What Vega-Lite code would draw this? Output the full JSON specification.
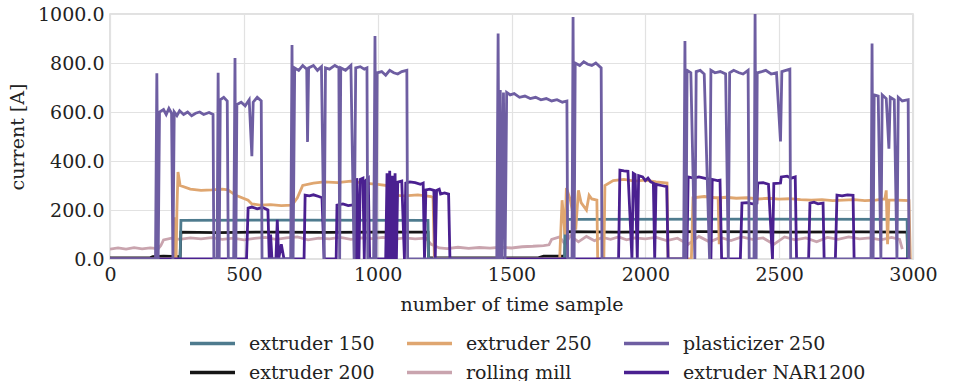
{
  "$schema": "https://vega.github.io/schema/vega-lite/v6.json",
  "width": 803,
  "height": 245,
  "padding": {"left": 8, "top": 5, "right": 5, "bottom": 0},
  "config": {
    "font": "DejaVu Serif",
    "view": {"stroke": "#d8d8d8", "strokeWidth": 1.5},
    "axis": {"grid": true, "gridColor": "#e2e2e2", "gridWidth": 1.2, "domain": false, "ticks": false, "labelFontSize": 19, "titleFontSize": 19, "titleFontWeight": "normal", "labelColor": "#222", "titleColor": "#222", "labelPadding": 6},
    "legend": {"labelFontSize": 19, "labelColor": "#222"}
  },
  "data": {"values": [
    {"m":"rolling mill","s":0,"v":40},{"m":"rolling mill","s":30,"v":45},{"m":"rolling mill","s":60,"v":40},{"m":"rolling mill","s":90,"v":46},{"m":"rolling mill","s":120,"v":41},{"m":"rolling mill","s":150,"v":45},{"m":"rolling mill","s":180,"v":42},{"m":"rolling mill","s":190,"v":55},{"m":"rolling mill","s":200,"v":78},{"m":"rolling mill","s":230,"v":85},{"m":"rolling mill","s":260,"v":80},{"m":"rolling mill","s":300,"v":86},{"m":"rolling mill","s":340,"v":82},{"m":"rolling mill","s":380,"v":87},{"m":"rolling mill","s":420,"v":80},{"m":"rolling mill","s":460,"v":85},{"m":"rolling mill","s":500,"v":78},{"m":"rolling mill","s":540,"v":84},{"m":"rolling mill","s":580,"v":88},{"m":"rolling mill","s":620,"v":80},{"m":"rolling mill","s":660,"v":86},{"m":"rolling mill","s":700,"v":90},{"m":"rolling mill","s":740,"v":78},{"m":"rolling mill","s":780,"v":85},{"m":"rolling mill","s":820,"v":82},{"m":"rolling mill","s":860,"v":88},{"m":"rolling mill","s":900,"v":80},{"m":"rolling mill","s":940,"v":86},{"m":"rolling mill","s":980,"v":83},{"m":"rolling mill","s":1020,"v":88},{"m":"rolling mill","s":1060,"v":80},{"m":"rolling mill","s":1100,"v":86},{"m":"rolling mill","s":1140,"v":82},{"m":"rolling mill","s":1180,"v":85},{"m":"rolling mill","s":1200,"v":60},{"m":"rolling mill","s":1230,"v":45},{"m":"rolling mill","s":1260,"v":42},{"m":"rolling mill","s":1300,"v":48},{"m":"rolling mill","s":1340,"v":43},{"m":"rolling mill","s":1380,"v":47},{"m":"rolling mill","s":1420,"v":44},{"m":"rolling mill","s":1460,"v":48},{"m":"rolling mill","s":1500,"v":45},{"m":"rolling mill","s":1540,"v":50},{"m":"rolling mill","s":1580,"v":52},{"m":"rolling mill","s":1620,"v":55},{"m":"rolling mill","s":1640,"v":58},{"m":"rolling mill","s":1650,"v":80},{"m":"rolling mill","s":1680,"v":90},{"m":"rolling mill","s":1700,"v":60},{"m":"rolling mill","s":1720,"v":95},{"m":"rolling mill","s":1750,"v":70},{"m":"rolling mill","s":1780,"v":92},{"m":"rolling mill","s":1810,"v":75},{"m":"rolling mill","s":1840,"v":88},{"m":"rolling mill","s":1870,"v":80},{"m":"rolling mill","s":1900,"v":90},{"m":"rolling mill","s":1930,"v":78},{"m":"rolling mill","s":1960,"v":86},{"m":"rolling mill","s":2000,"v":82},{"m":"rolling mill","s":2040,"v":88},{"m":"rolling mill","s":2080,"v":75},{"m":"rolling mill","s":2120,"v":85},{"m":"rolling mill","s":2160,"v":60},{"m":"rolling mill","s":2200,"v":92},{"m":"rolling mill","s":2240,"v":70},{"m":"rolling mill","s":2280,"v":88},{"m":"rolling mill","s":2320,"v":75},{"m":"rolling mill","s":2360,"v":90},{"m":"rolling mill","s":2400,"v":80},{"m":"rolling mill","s":2440,"v":86},{"m":"rolling mill","s":2480,"v":60},{"m":"rolling mill","s":2520,"v":90},{"m":"rolling mill","s":2560,"v":78},{"m":"rolling mill","s":2600,"v":86},{"m":"rolling mill","s":2640,"v":70},{"m":"rolling mill","s":2680,"v":88},{"m":"rolling mill","s":2720,"v":80},{"m":"rolling mill","s":2760,"v":90},{"m":"rolling mill","s":2800,"v":82},{"m":"rolling mill","s":2840,"v":86},{"m":"rolling mill","s":2880,"v":78},{"m":"rolling mill","s":2920,"v":88},{"m":"rolling mill","s":2950,"v":80},{"m":"rolling mill","s":2960,"v":40},

    {"m":"extruder 200","s":0,"v":5},{"m":"extruder 200","s":150,"v":5},{"m":"extruder 200","s":160,"v":10},{"m":"extruder 200","s":200,"v":12},{"m":"extruder 200","s":262,"v":10},{"m":"extruder 200","s":265,"v":110},{"m":"extruder 200","s":400,"v":108},{"m":"extruder 200","s":600,"v":110},{"m":"extruder 200","s":800,"v":109},{"m":"extruder 200","s":1000,"v":110},{"m":"extruder 200","s":1188,"v":110},{"m":"extruder 200","s":1190,"v":5},{"m":"extruder 200","s":1600,"v":5},{"m":"extruder 200","s":1620,"v":12},{"m":"extruder 200","s":1700,"v":12},{"m":"extruder 200","s":1702,"v":112},{"m":"extruder 200","s":1900,"v":110},{"m":"extruder 200","s":2200,"v":112},{"m":"extruder 200","s":2500,"v":110},{"m":"extruder 200","s":2800,"v":111},{"m":"extruder 200","s":2978,"v":110},{"m":"extruder 200","s":2980,"v":5},

    {"m":"extruder 150","s":0,"v":0},{"m":"extruder 150","s":262,"v":0},{"m":"extruder 150","s":265,"v":158},{"m":"extruder 150","s":700,"v":159},{"m":"extruder 150","s":1188,"v":158},{"m":"extruder 150","s":1190,"v":0},{"m":"extruder 150","s":1698,"v":0},{"m":"extruder 150","s":1700,"v":162},{"m":"extruder 150","s":2400,"v":163},{"m":"extruder 150","s":2978,"v":162},{"m":"extruder 150","s":2980,"v":0},

    {"m":"extruder 250","s":0,"v":0},{"m":"extruder 250","s":240,"v":0},{"m":"extruder 250","s":243,"v":170},{"m":"extruder 250","s":247,"v":0},{"m":"extruder 250","s":250,"v":200},{"m":"extruder 250","s":254,"v":355},{"m":"extruder 250","s":262,"v":300},{"m":"extruder 250","s":300,"v":285},{"m":"extruder 250","s":340,"v":280},{"m":"extruder 250","s":380,"v":282},{"m":"extruder 250","s":420,"v":285},{"m":"extruder 250","s":440,"v":282},{"m":"extruder 250","s":470,"v":260},{"m":"extruder 250","s":516,"v":240},{"m":"extruder 250","s":530,"v":225},{"m":"extruder 250","s":560,"v":220},{"m":"extruder 250","s":600,"v":222},{"m":"extruder 250","s":640,"v":218},{"m":"extruder 250","s":680,"v":220},{"m":"extruder 250","s":700,"v":250},{"m":"extruder 250","s":720,"v":300},{"m":"extruder 250","s":760,"v":310},{"m":"extruder 250","s":800,"v":315},{"m":"extruder 250","s":850,"v":312},{"m":"extruder 250","s":900,"v":318},{"m":"extruder 250","s":950,"v":310},{"m":"extruder 250","s":1000,"v":305},{"m":"extruder 250","s":1035,"v":300},{"m":"extruder 250","s":1040,"v":262},{"m":"extruder 250","s":1100,"v":258},{"m":"extruder 250","s":1150,"v":262},{"m":"extruder 250","s":1200,"v":255},{"m":"extruder 250","s":1207,"v":250},{"m":"extruder 250","s":1212,"v":0},{"m":"extruder 250","s":1680,"v":0},{"m":"extruder 250","s":1689,"v":240},{"m":"extruder 250","s":1700,"v":100},{"m":"extruder 250","s":1705,"v":290},{"m":"extruder 250","s":1720,"v":240},{"m":"extruder 250","s":1740,"v":120},{"m":"extruder 250","s":1750,"v":280},{"m":"extruder 250","s":1760,"v":230},{"m":"extruder 250","s":1780,"v":200},{"m":"extruder 250","s":1790,"v":260},{"m":"extruder 250","s":1800,"v":245},{"m":"extruder 250","s":1819,"v":240},{"m":"extruder 250","s":1822,"v":0},{"m":"extruder 250","s":1845,"v":0},{"m":"extruder 250","s":1849,"v":300},{"m":"extruder 250","s":1880,"v":320},{"m":"extruder 250","s":1920,"v":325},{"m":"extruder 250","s":1960,"v":318},{"m":"extruder 250","s":2000,"v":322},{"m":"extruder 250","s":2040,"v":315},{"m":"extruder 250","s":2081,"v":310},{"m":"extruder 250","s":2085,"v":0},{"m":"extruder 250","s":2172,"v":0},{"m":"extruder 250","s":2178,"v":250},{"m":"extruder 250","s":2220,"v":255},{"m":"extruder 250","s":2260,"v":250},{"m":"extruder 250","s":2272,"v":250},{"m":"extruder 250","s":2276,"v":60},{"m":"extruder 250","s":2282,"v":250},{"m":"extruder 250","s":2300,"v":252},{"m":"extruder 250","s":2340,"v":248},{"m":"extruder 250","s":2380,"v":250},{"m":"extruder 250","s":2420,"v":245},{"m":"extruder 250","s":2460,"v":248},{"m":"extruder 250","s":2500,"v":244},{"m":"extruder 250","s":2540,"v":246},{"m":"extruder 250","s":2580,"v":242},{"m":"extruder 250","s":2620,"v":240},{"m":"extruder 250","s":2660,"v":242},{"m":"extruder 250","s":2700,"v":238},{"m":"extruder 250","s":2740,"v":240},{"m":"extruder 250","s":2780,"v":242},{"m":"extruder 250","s":2820,"v":238},{"m":"extruder 250","s":2860,"v":240},{"m":"extruder 250","s":2895,"v":245},{"m":"extruder 250","s":2900,"v":280},{"m":"extruder 250","s":2905,"v":60},{"m":"extruder 250","s":2910,"v":240},{"m":"extruder 250","s":2940,"v":240},{"m":"extruder 250","s":2985,"v":238},{"m":"extruder 250","s":2990,"v":0},

    {"m":"extruder NAR1200","s":0,"v":0},{"m":"extruder NAR1200","s":510,"v":0},{"m":"extruder NAR1200","s":516,"v":208},{"m":"extruder NAR1200","s":530,"v":212},{"m":"extruder NAR1200","s":550,"v":205},{"m":"extruder NAR1200","s":570,"v":210},{"m":"extruder NAR1200","s":590,"v":200},{"m":"extruder NAR1200","s":595,"v":0},{"m":"extruder NAR1200","s":600,"v":100},{"m":"extruder NAR1200","s":605,"v":0},{"m":"extruder NAR1200","s":620,"v":0},{"m":"extruder NAR1200","s":625,"v":160},{"m":"extruder NAR1200","s":630,"v":0},{"m":"extruder NAR1200","s":640,"v":60},{"m":"extruder NAR1200","s":650,"v":0},{"m":"extruder NAR1200","s":725,"v":0},{"m":"extruder NAR1200","s":729,"v":261},{"m":"extruder NAR1200","s":745,"v":258},{"m":"extruder NAR1200","s":760,"v":262},{"m":"extruder NAR1200","s":780,"v":255},{"m":"extruder NAR1200","s":792,"v":250},{"m":"extruder NAR1200","s":800,"v":0},{"m":"extruder NAR1200","s":845,"v":0},{"m":"extruder NAR1200","s":848,"v":220},{"m":"extruder NAR1200","s":870,"v":225},{"m":"extruder NAR1200","s":890,"v":218},{"m":"extruder NAR1200","s":915,"v":222},{"m":"extruder NAR1200","s":920,"v":0},{"m":"extruder NAR1200","s":922,"v":330},{"m":"extruder NAR1200","s":930,"v":0},{"m":"extruder NAR1200","s":935,"v":325},{"m":"extruder NAR1200","s":945,"v":330},{"m":"extruder NAR1200","s":950,"v":0},{"m":"extruder NAR1200","s":955,"v":320},{"m":"extruder NAR1200","s":965,"v":330},{"m":"extruder NAR1200","s":970,"v":0},{"m":"extruder NAR1200","s":1030,"v":0},{"m":"extruder NAR1200","s":1035,"v":350},{"m":"extruder NAR1200","s":1040,"v":0},{"m":"extruder NAR1200","s":1045,"v":360},{"m":"extruder NAR1200","s":1050,"v":0},{"m":"extruder NAR1200","s":1055,"v":340},{"m":"extruder NAR1200","s":1060,"v":0},{"m":"extruder NAR1200","s":1065,"v":350},{"m":"extruder NAR1200","s":1070,"v":0},{"m":"extruder NAR1200","s":1075,"v":314},{"m":"extruder NAR1200","s":1090,"v":318},{"m":"extruder NAR1200","s":1100,"v":0},{"m":"extruder NAR1200","s":1105,"v":310},{"m":"extruder NAR1200","s":1120,"v":315},{"m":"extruder NAR1200","s":1140,"v":312},{"m":"extruder NAR1200","s":1160,"v":305},{"m":"extruder NAR1200","s":1170,"v":310},{"m":"extruder NAR1200","s":1175,"v":0},{"m":"extruder NAR1200","s":1180,"v":282},{"m":"extruder NAR1200","s":1195,"v":285},{"m":"extruder NAR1200","s":1210,"v":280},{"m":"extruder NAR1200","s":1215,"v":0},{"m":"extruder NAR1200","s":1220,"v":280},{"m":"extruder NAR1200","s":1230,"v":285},{"m":"extruder NAR1200","s":1235,"v":265},{"m":"extruder NAR1200","s":1250,"v":270},{"m":"extruder NAR1200","s":1265,"v":265},{"m":"extruder NAR1200","s":1270,"v":0},{"m":"extruder NAR1200","s":1900,"v":0},{"m":"extruder NAR1200","s":1905,"v":363},{"m":"extruder NAR1200","s":1920,"v":360},{"m":"extruder NAR1200","s":1935,"v":358},{"m":"extruder NAR1200","s":1950,"v":0},{"m":"extruder NAR1200","s":1955,"v":350},{"m":"extruder NAR1200","s":1962,"v":345},{"m":"extruder NAR1200","s":1970,"v":0},{"m":"extruder NAR1200","s":1975,"v":340},{"m":"extruder NAR1200","s":1990,"v":335},{"m":"extruder NAR1200","s":2000,"v":320},{"m":"extruder NAR1200","s":2010,"v":330},{"m":"extruder NAR1200","s":2020,"v":315},{"m":"extruder NAR1200","s":2030,"v":310},{"m":"extruder NAR1200","s":2035,"v":0},{"m":"extruder NAR1200","s":2040,"v":305},{"m":"extruder NAR1200","s":2060,"v":300},{"m":"extruder NAR1200","s":2080,"v":295},{"m":"extruder NAR1200","s":2085,"v":0},{"m":"extruder NAR1200","s":2155,"v":0},{"m":"extruder NAR1200","s":2160,"v":335},{"m":"extruder NAR1200","s":2180,"v":330},{"m":"extruder NAR1200","s":2200,"v":335},{"m":"extruder NAR1200","s":2220,"v":330},{"m":"extruder NAR1200","s":2240,"v":325},{"m":"extruder NAR1200","s":2245,"v":0},{"m":"extruder NAR1200","s":2250,"v":325},{"m":"extruder NAR1200","s":2270,"v":320},{"m":"extruder NAR1200","s":2279,"v":322},{"m":"extruder NAR1200","s":2285,"v":0},{"m":"extruder NAR1200","s":2355,"v":0},{"m":"extruder NAR1200","s":2361,"v":228},{"m":"extruder NAR1200","s":2380,"v":230},{"m":"extruder NAR1200","s":2400,"v":225},{"m":"extruder NAR1200","s":2417,"v":228},{"m":"extruder NAR1200","s":2420,"v":310},{"m":"extruder NAR1200","s":2440,"v":312},{"m":"extruder NAR1200","s":2460,"v":305},{"m":"extruder NAR1200","s":2475,"v":0},{"m":"extruder NAR1200","s":2480,"v":308},{"m":"extruder NAR1200","s":2505,"v":310},{"m":"extruder NAR1200","s":2508,"v":335},{"m":"extruder NAR1200","s":2530,"v":338},{"m":"extruder NAR1200","s":2545,"v":330},{"m":"extruder NAR1200","s":2560,"v":335},{"m":"extruder NAR1200","s":2565,"v":0},{"m":"extruder NAR1200","s":2610,"v":0},{"m":"extruder NAR1200","s":2615,"v":228},{"m":"extruder NAR1200","s":2630,"v":232},{"m":"extruder NAR1200","s":2645,"v":225},{"m":"extruder NAR1200","s":2664,"v":228},{"m":"extruder NAR1200","s":2668,"v":0},{"m":"extruder NAR1200","s":2710,"v":0},{"m":"extruder NAR1200","s":2716,"v":261},{"m":"extruder NAR1200","s":2735,"v":258},{"m":"extruder NAR1200","s":2755,"v":262},{"m":"extruder NAR1200","s":2776,"v":260},{"m":"extruder NAR1200","s":2780,"v":0},{"m":"extruder NAR1200","s":2990,"v":0},

    {"m":"plasticizer 250","s":0,"v":0},{"m":"plasticizer 250","s":170,"v":0},{"m":"plasticizer 250","s":175,"v":758},{"m":"plasticizer 250","s":180,"v":0},{"m":"plasticizer 250","s":185,"v":600},{"m":"plasticizer 250","s":200,"v":610},{"m":"plasticizer 250","s":210,"v":590},{"m":"plasticizer 250","s":220,"v":615},{"m":"plasticizer 250","s":230,"v":595},{"m":"plasticizer 250","s":235,"v":0},{"m":"plasticizer 250","s":240,"v":600},{"m":"plasticizer 250","s":250,"v":585},{"m":"plasticizer 250","s":260,"v":605},{"m":"plasticizer 250","s":275,"v":590},{"m":"plasticizer 250","s":290,"v":600},{"m":"plasticizer 250","s":305,"v":585},{"m":"plasticizer 250","s":320,"v":595},{"m":"plasticizer 250","s":335,"v":600},{"m":"plasticizer 250","s":350,"v":590},{"m":"plasticizer 250","s":370,"v":598},{"m":"plasticizer 250","s":385,"v":590},{"m":"plasticizer 250","s":388,"v":0},{"m":"plasticizer 250","s":400,"v":0},{"m":"plasticizer 250","s":404,"v":760},{"m":"plasticizer 250","s":408,"v":0},{"m":"plasticizer 250","s":412,"v":650},{"m":"plasticizer 250","s":425,"v":660},{"m":"plasticizer 250","s":438,"v":645},{"m":"plasticizer 250","s":442,"v":0},{"m":"plasticizer 250","s":462,"v":0},{"m":"plasticizer 250","s":467,"v":820},{"m":"plasticizer 250","s":470,"v":0},{"m":"plasticizer 250","s":474,"v":630},{"m":"plasticizer 250","s":490,"v":640},{"m":"plasticizer 250","s":505,"v":625},{"m":"plasticizer 250","s":520,"v":650},{"m":"plasticizer 250","s":530,"v":420},{"m":"plasticizer 250","s":535,"v":640},{"m":"plasticizer 250","s":550,"v":660},{"m":"plasticizer 250","s":565,"v":645},{"m":"plasticizer 250","s":568,"v":0},{"m":"plasticizer 250","s":675,"v":0},{"m":"plasticizer 250","s":680,"v":873},{"m":"plasticizer 250","s":684,"v":0},{"m":"plasticizer 250","s":690,"v":780},{"m":"plasticizer 250","s":705,"v":770},{"m":"plasticizer 250","s":720,"v":790},{"m":"plasticizer 250","s":735,"v":775},{"m":"plasticizer 250","s":738,"v":478},{"m":"plasticizer 250","s":742,"v":780},{"m":"plasticizer 250","s":760,"v":790},{"m":"plasticizer 250","s":775,"v":770},{"m":"plasticizer 250","s":790,"v":785},{"m":"plasticizer 250","s":800,"v":0},{"m":"plasticizer 250","s":805,"v":780},{"m":"plasticizer 250","s":820,"v":775},{"m":"plasticizer 250","s":840,"v":790},{"m":"plasticizer 250","s":855,"v":780},{"m":"plasticizer 250","s":858,"v":0},{"m":"plasticizer 250","s":862,"v":780},{"m":"plasticizer 250","s":880,"v":770},{"m":"plasticizer 250","s":900,"v":790},{"m":"plasticizer 250","s":912,"v":0},{"m":"plasticizer 250","s":918,"v":780},{"m":"plasticizer 250","s":935,"v":785},{"m":"plasticizer 250","s":950,"v":775},{"m":"plasticizer 250","s":960,"v":780},{"m":"plasticizer 250","s":963,"v":0},{"m":"plasticizer 250","s":985,"v":0},{"m":"plasticizer 250","s":990,"v":910},{"m":"plasticizer 250","s":994,"v":0},{"m":"plasticizer 250","s":998,"v":760},{"m":"plasticizer 250","s":1015,"v":765},{"m":"plasticizer 250","s":1030,"v":750},{"m":"plasticizer 250","s":1045,"v":770},{"m":"plasticizer 250","s":1060,"v":760},{"m":"plasticizer 250","s":1075,"v":755},{"m":"plasticizer 250","s":1090,"v":765},{"m":"plasticizer 250","s":1109,"v":770},{"m":"plasticizer 250","s":1112,"v":0},{"m":"plasticizer 250","s":1445,"v":0},{"m":"plasticizer 250","s":1450,"v":920},{"m":"plasticizer 250","s":1454,"v":0},{"m":"plasticizer 250","s":1458,"v":690},{"m":"plasticizer 250","s":1464,"v":0},{"m":"plasticizer 250","s":1470,"v":680},{"m":"plasticizer 250","s":1476,"v":0},{"m":"plasticizer 250","s":1482,"v":680},{"m":"plasticizer 250","s":1495,"v":670},{"m":"plasticizer 250","s":1510,"v":675},{"m":"plasticizer 250","s":1530,"v":660},{"m":"plasticizer 250","s":1550,"v":665},{"m":"plasticizer 250","s":1570,"v":655},{"m":"plasticizer 250","s":1590,"v":660},{"m":"plasticizer 250","s":1610,"v":650},{"m":"plasticizer 250","s":1630,"v":655},{"m":"plasticizer 250","s":1650,"v":645},{"m":"plasticizer 250","s":1670,"v":650},{"m":"plasticizer 250","s":1690,"v":640},{"m":"plasticizer 250","s":1707,"v":645},{"m":"plasticizer 250","s":1710,"v":0},{"m":"plasticizer 250","s":1726,"v":0},{"m":"plasticizer 250","s":1730,"v":988},{"m":"plasticizer 250","s":1734,"v":0},{"m":"plasticizer 250","s":1738,"v":800},{"m":"plasticizer 250","s":1755,"v":790},{"m":"plasticizer 250","s":1770,"v":805},{"m":"plasticizer 250","s":1785,"v":795},{"m":"plasticizer 250","s":1800,"v":790},{"m":"plasticizer 250","s":1815,"v":800},{"m":"plasticizer 250","s":1835,"v":780},{"m":"plasticizer 250","s":1838,"v":0},{"m":"plasticizer 250","s":2143,"v":0},{"m":"plasticizer 250","s":2148,"v":890},{"m":"plasticizer 250","s":2152,"v":0},{"m":"plasticizer 250","s":2156,"v":770},{"m":"plasticizer 250","s":2170,"v":760},{"m":"plasticizer 250","s":2185,"v":0},{"m":"plasticizer 250","s":2190,"v":765},{"m":"plasticizer 250","s":2205,"v":770},{"m":"plasticizer 250","s":2220,"v":755},{"m":"plasticizer 250","s":2240,"v":0},{"m":"plasticizer 250","s":2245,"v":770},{"m":"plasticizer 250","s":2260,"v":760},{"m":"plasticizer 250","s":2280,"v":765},{"m":"plasticizer 250","s":2300,"v":755},{"m":"plasticizer 250","s":2310,"v":0},{"m":"plasticizer 250","s":2315,"v":760},{"m":"plasticizer 250","s":2330,"v":770},{"m":"plasticizer 250","s":2350,"v":760},{"m":"plasticizer 250","s":2365,"v":755},{"m":"plasticizer 250","s":2384,"v":770},{"m":"plasticizer 250","s":2388,"v":0},{"m":"plasticizer 250","s":2406,"v":0},{"m":"plasticizer 250","s":2410,"v":1000},{"m":"plasticizer 250","s":2414,"v":0},{"m":"plasticizer 250","s":2418,"v":760},{"m":"plasticizer 250","s":2435,"v":765},{"m":"plasticizer 250","s":2450,"v":770},{"m":"plasticizer 250","s":2470,"v":755},{"m":"plasticizer 250","s":2490,"v":760},{"m":"plasticizer 250","s":2505,"v":480},{"m":"plasticizer 250","s":2510,"v":765},{"m":"plasticizer 250","s":2525,"v":770},{"m":"plasticizer 250","s":2540,"v":775},{"m":"plasticizer 250","s":2543,"v":0},{"m":"plasticizer 250","s":2843,"v":0},{"m":"plasticizer 250","s":2847,"v":880},{"m":"plasticizer 250","s":2851,"v":0},{"m":"plasticizer 250","s":2855,"v":670},{"m":"plasticizer 250","s":2870,"v":665},{"m":"plasticizer 250","s":2880,"v":0},{"m":"plasticizer 250","s":2885,"v":670},{"m":"plasticizer 250","s":2900,"v":655},{"m":"plasticizer 250","s":2910,"v":450},{"m":"plasticizer 250","s":2915,"v":660},{"m":"plasticizer 250","s":2930,"v":650},{"m":"plasticizer 250","s":2940,"v":0},{"m":"plasticizer 250","s":2945,"v":660},{"m":"plasticizer 250","s":2960,"v":645},{"m":"plasticizer 250","s":2982,"v":650},{"m":"plasticizer 250","s":2985,"v":0}
  ]},
  "mark": {"type": "line", "strokeWidth": 2.8, "clip": true},
  "encoding": {
    "x": {"field": "s", "type": "quantitative", "title": "number of time sample", "scale": {"domain": [0, 3000], "nice": false}, "axis": {"values": [0, 500, 1000, 1500, 2000, 2500, 3000], "format": "d", "labelFlush": false, "titlePadding": 11}},
    "y": {"field": "v", "type": "quantitative", "title": "current [A]", "scale": {"domain": [0, 1000], "nice": false}, "axis": {"values": [0, 200, 400, 600, 800, 1000], "format": ".1f", "titlePadding": 10}},
    "color": {"field": "m", "type": "nominal", "sort": null,
      "scale": {"domain": ["extruder 150", "extruder 250", "plasticizer 250", "extruder 200", "rolling mill", "extruder NAR1200"],
                "range": ["#4e7b8e", "#dfa670", "#6e5ea2", "#151515", "#c9a4ae", "#4a2090"]},
      "legend": {"title": null, "orient": "none", "legendX": 78, "legendY": 315, "direction": "horizontal", "columns": 3, "symbolType": "stroke", "symbolSize": 2025, "symbolStrokeWidth": 3.5, "clipHeight": 29, "columnPadding": 30, "rowPadding": 0, "labelOffset": 12, "labelLimit": 400}}
  }
}
